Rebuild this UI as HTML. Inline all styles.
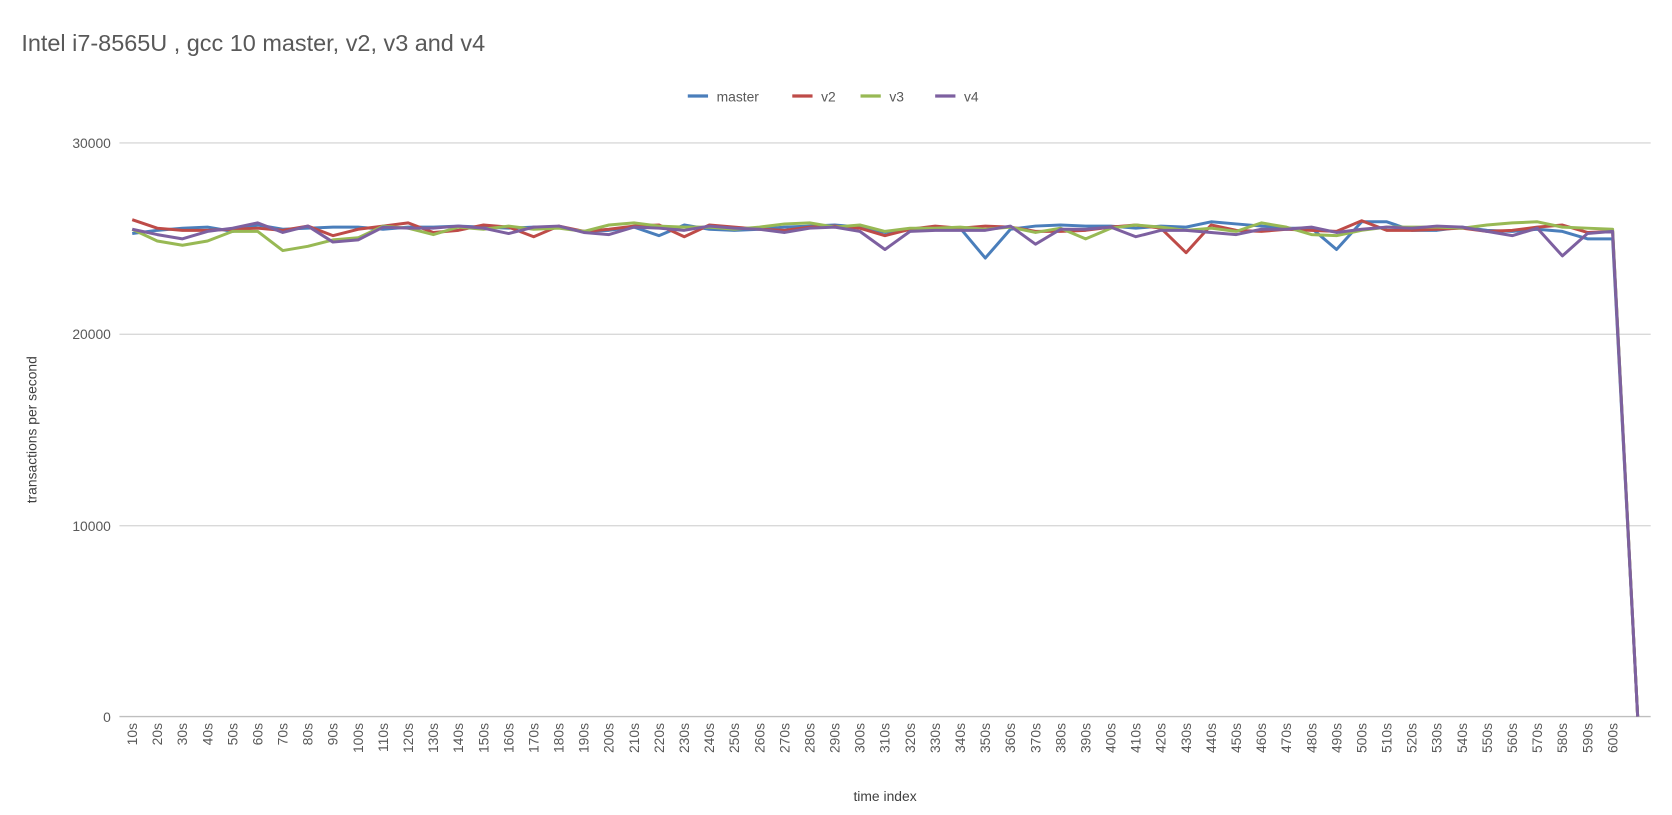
<!DOCTYPE html>
<html><head><meta charset="utf-8"><style>
html,body{margin:0;padding:0;background:#fff;}
svg{display:block;font-family:"Liberation Sans",sans-serif;}
</style></head><body>
<svg id="c" width="1672" height="815" xmlns="http://www.w3.org/2000/svg">
<rect width="1672" height="815" fill="#fff"/>
<g transform="scale(1.06633)">
<text x="20" y="48" font-size="22" fill="#595959">Intel i7-8565U , gcc 10 master, v2, v3 and v4</text>
<g stroke="#d9d9d9" stroke-width="1.3">
<line x1="112" y1="134" x2="1548" y2="134"/>
<line x1="112" y1="313.5" x2="1548" y2="313.5"/>
<line x1="112" y1="493" x2="1548" y2="493"/>
</g>
<line x1="112" y1="672" x2="1548" y2="672" stroke="#bfbfbf" stroke-width="1.3"/>
<g font-size="13" fill="#595959" text-anchor="end">
<text x="104" y="139">30000</text>
<text x="104" y="318">20000</text>
<text x="104" y="498">10000</text>
<text x="104" y="677">0</text>
</g>
<text transform="translate(34,403) rotate(-90)" font-size="13" fill="#404040" text-anchor="middle">transactions per second</text>
<text x="830" y="751" font-size="13" fill="#404040" text-anchor="middle">time index</text>
<g font-size="13" fill="#595959">
<line x1="645" y1="90" x2="664" y2="90" stroke="#4a7ebb" stroke-width="3"/><text x="672" y="95">master</text>
<line x1="743" y1="90" x2="762" y2="90" stroke="#be4b48" stroke-width="3"/><text x="770" y="95">v2</text>
<line x1="807" y1="90" x2="826" y2="90" stroke="#98b954" stroke-width="3"/><text x="834" y="95">v3</text>
<line x1="877" y1="90" x2="896" y2="90" stroke="#7d60a0" stroke-width="3"/><text x="904" y="95">v4</text>
</g>
<g id="xl" font-size="13" fill="#595959" text-anchor="end"></g>
<g id="ser" fill="none" stroke-width="2.8" stroke-linejoin="round"></g>
</g>
</svg>
<script>
var X0=124,DX=23.53,ns="http://www.w3.org/2000/svg";
var xl=document.getElementById("xl");
for(var i=0;i<60;i++){var t=document.createElementNS(ns,"text");var x=X0+DX*i+4.5;
t.setAttribute("transform","translate("+x+",678) rotate(-90)");t.textContent=(10*(i+1))+"s";xl.appendChild(t);}
var S={
"#4a7ebb":[219,216,214,213,217,211,215,214,213,213,215,213,213,212,213,214,213,213,217,216,213,221,211,215,216,215,213,212,211,213,218,215,214,214,242,215,212,211,212,212,214,212,213,208,210,212,214,214,234,208,208,216,216,213,216,217,215,217,224,224,218],
"#be4b48":[206,214,216,216,215,214,216,212,221,215,212,209,218,216,211,213,222,212,217,215,212,211,222,211,213,215,216,213,212,214,221,215,212,214,212,213,217,217,216,213,211,214,237,211,216,217,215,216,217,207,216,216,215,214,217,216,213,211,218,217,217],
"#98b954":[215,226,230,226,217,217,235,231,225,223,212,214,220,213,215,212,215,214,217,211,209,212,213,213,215,213,210,209,213,211,217,214,214,213,215,213,218,214,224,214,211,213,216,214,217,209,213,220,221,216,213,213,213,214,211,209,208,213,214,215,216],
"#7d60a0":[215,220,224,217,214,209,218,212,227,225,213,214,214,212,214,219,213,212,218,220,213,214,216,212,214,215,218,214,213,217,234,217,216,216,216,212,229,215,215,213,222,216,216,218,220,215,215,213,218,215,213,214,212,213,217,221,214,240,219,217,216]};
var g=document.getElementById("ser");
for(var c in S){var a=S[c];var pts=[];for(var i=0;i<60;i++)pts.push((X0+DX*i).toFixed(1)+","+a[i]);
pts.push((X0+DX*60).toFixed(1)+",672");
var p=document.createElementNS(ns,"polyline");p.setAttribute("points",pts.join(" "));p.setAttribute("stroke",c);g.appendChild(p);}
</script>
</body></html>
